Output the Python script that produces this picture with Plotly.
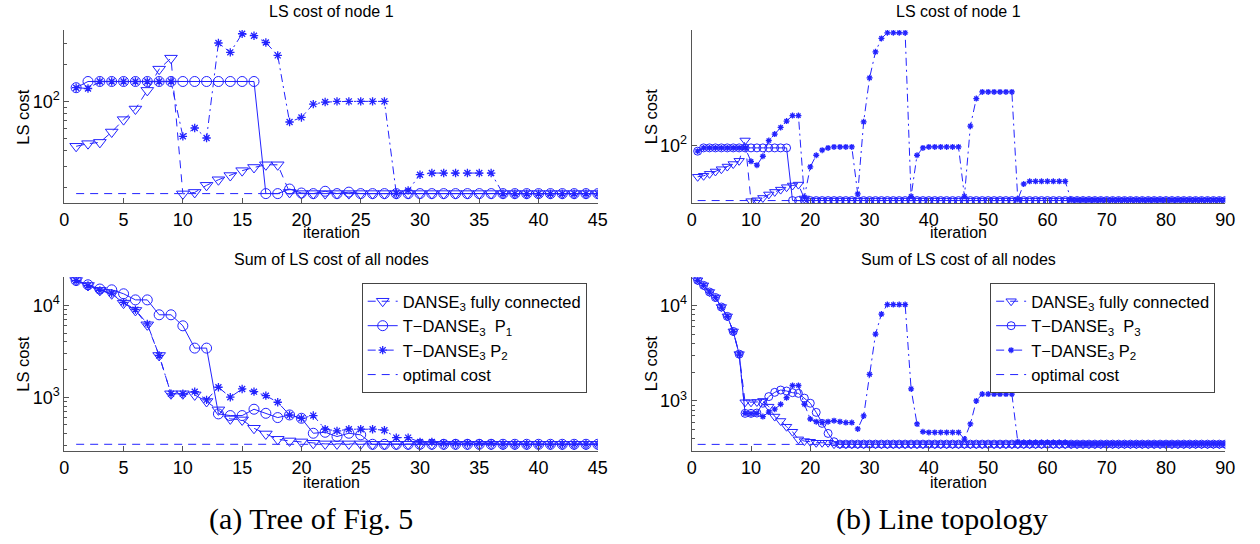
import plotly.graph_objects as go

# ---------------- data ----------------
iters_a = list(range(1, 46))
iters_b = list(range(1, 91))

# (a) Tree of Fig. 5 -- LS cost of node 1
a_top_danse = [43.4, 45.6, 46.7, 56.7, 71.5, 87.2, 123.6, 184, 226,
               17.8, 18.3, 20.9, 23.2, 25.1, 27.5, 29.2, 30.7, 30.7,
               18.3, 17.9, 17.9, 17.9, 17.9, 17.9, 17.9, 17.9, 17.9,
               17.9, 17.9, 17.9, 17.9, 17.9, 17.9, 17.9, 17.9, 17.9,
               17.9, 17.9, 17.9, 17.9, 17.9, 17.9, 17.9, 17.9, 17.9]
a_top_p1 = [130, 146, 146, 146, 146, 146, 146, 146, 146,
            146, 146, 146, 146, 146, 146, 146, 17.9, 17.9,
            19.5, 18.1, 17.9, 18.7, 17.9, 18.4, 17.9, 17.9, 17.9,
            17.9, 17.9, 17.9, 17.9, 17.9, 17.9, 17.9, 17.9, 17.9,
            17.9, 17.9, 17.9, 17.9, 17.9, 17.9, 17.9, 17.9, 17.9]
a_top_p2 = [130, 128, 146, 146, 146, 146, 146, 146, 146,
            52.3, 61.1, 50.7, 300, 252, 357, 344, 303, 238,
            68.4, 74.5, 95.6, 99.4, 100.6, 100.6, 100.6, 100.6, 100.6,
            18.0, 19.0, 25.5, 26.3, 26.3, 26.3, 26.3, 26.3, 26.3,
            17.9, 17.9, 17.9, 17.9, 17.9, 17.9, 17.9, 17.9, 17.9]
a_top_opt = 17.9

# (a) Sum of LS cost of all nodes
a_bot_danse = [18700, 16500, 14600, 13400, 10600, 8820, 6150, 2850, 1090,
               1090, 1060, 898, 728, 581, 566, 459, 398, 348,
               334, 326, 315, 310, 310, 310, 310, 307, 307,
               307, 307, 307, 307, 307, 307, 307, 307, 307,
               307, 307, 307, 307, 307, 307, 307, 307, 307]
a_bot_p1 = [18700, 16800, 15100, 14800, 13400, 11500, 11500, 7910, 7910,
            6000, 3430, 3430, 658, 631, 631, 740, 668, 600,
            641, 590, 405, 415, 373, 405, 389, 307, 307,
            307, 307, 307, 307, 307, 307, 307, 307, 307,
            307, 307, 307, 307, 307, 307, 307, 307, 307]
a_bot_p2 = [18700, 16500, 14600, 13600, 10800, 9000, 6300, 2850, 1090,
            1090, 1150, 935, 1285, 1000, 1230, 1150, 1040, 881,
            641, 590, 631, 448, 430, 448, 448, 448, 437,
            363, 363, 325, 325, 315, 315, 315, 315, 315,
            308, 308, 308, 308, 308, 308, 308, 308, 308]
a_bot_opt = 307

# (b) Line topology -- LS cost of node 1
b_top_danse = [60, 61, 63, 65.5, 68, 71, 74, 78, 109,
               40.2, 40.8, 42.4, 44.9, 46.8, 48.6, 50.6, 52, 52.8,
               42, 40.6, 40.6, 40.6, 40.6, 40.6, 40.6, 40.6, 40.6, 40.6,
               40.6, 40.6, 40.6, 40.6, 40.6, 40.6, 40.6, 40.6, 40.6, 40.6,
               40.6, 40.6, 40.6, 40.6, 40.6, 40.6, 40.6, 40.6, 40.6, 40.6,
               40.6, 40.6, 40.6, 40.6, 40.6, 40.6, 40.6, 40.6, 40.6, 40.6,
               40.6, 40.6, 40.6, 40.6, 40.6, 40.6, 40.6, 40.6, 40.6, 40.6,
               40.6, 40.6, 40.6, 40.6, 40.6, 40.6, 40.6, 40.6, 40.6, 40.6,
               40.6, 40.6, 40.6, 40.6, 40.6, 40.6, 40.6, 40.6, 40.6, 40.6,
               40.6, 40.6, 40.6]
b_top_p3 = [91.4, 96.5, 96.5, 96.5, 96.5, 96.5, 96.5, 96.5, 96.5, 96.5,
            96.5, 96.5, 96.5, 96.5, 96.5, 96.5, 40.6, 40.6, 40.6, 40.6,
            40.6, 40.6, 40.6, 40.6, 40.6, 40.6, 40.6, 40.6, 40.6, 40.6,
            40.6, 40.6, 40.6, 40.6, 40.6, 40.6, 40.6, 40.6, 40.6, 40.6,
            40.6, 40.6, 40.6, 40.6, 40.6, 40.6, 40.6, 40.6, 40.6, 40.6,
            40.6, 40.6, 40.6, 40.6, 40.6, 40.6, 40.6, 40.6, 40.6, 40.6,
            40.6, 40.6, 40.6, 40.6, 40.6, 40.6, 40.6, 40.6, 40.6, 40.6,
            40.6, 40.6, 40.6, 40.6, 40.6, 40.6, 40.6, 40.6, 40.6, 40.6,
            40.6, 40.6, 40.6, 40.6, 40.6, 40.6, 40.6, 40.6, 40.6, 40.6]
b_top_p2 = [91.4, 96.5, 96.5, 96.5, 96.5, 96.5, 96.5, 96.5, 96.5,
            77.4, 72.6, 84.1, 109, 121, 135, 150, 164, 164,
            42.9, 70.6, 85.5, 92.9, 96.5, 98, 98, 98, 98,
            45.3, 148, 305, 468, 583, 640, 640, 640, 640,
            43.5, 85.5, 96.5, 98, 98, 98, 98, 98, 98,
            43.5, 138, 217, 242, 242, 242, 242, 242, 242,
            41.3, 53.3, 55.7, 55.7, 55.7, 55.7, 55.7, 55.7, 55.7,
            41.0, 40.8, 40.8, 40.8, 40.8, 40.8, 40.8, 40.8, 40.8,
            40.8, 40.8, 40.8, 40.8, 40.8, 40.8, 40.8, 40.8, 40.8,
            40.8, 40.8, 40.8, 40.8, 40.8, 40.8, 40.8, 40.8, 40.8]
b_top_opt = 40.6

# (b) Sum of LS cost of all nodes
b_bot_danse = [18300, 16200, 13800, 12100, 9610, 7670, 5340, 3090, 968,
               968, 975, 1000, 871, 686, 617, 537, 476, 396,
               380, 374, 365, 365, 365, 353, 353, 353, 353, 353, 353, 353,
               353, 353, 353, 353, 353, 353, 353, 353, 353, 353,
               353, 353, 353, 353, 353, 353, 353, 353, 353, 353,
               353, 353, 353, 353, 353, 353, 353, 353, 353, 353,
               353, 353, 353, 353, 353, 353, 353, 353, 353, 353,
               353, 353, 353, 353, 353, 353, 353, 353, 353, 353,
               353, 353, 353, 353, 353, 353, 353, 353, 353, 353]
b_bot_p3 = [18300, 16200, 13800, 12100, 9610, 7670, 5340, 3090, 741,
            741, 747, 946, 1110, 1230, 1300, 1270, 1220, 1200,
            1070, 946, 759, 582, 457, 374, 353, 353, 353, 353, 353, 353,
            353, 353, 353, 353, 353, 353, 353, 353, 353, 353,
            353, 353, 353, 353, 353, 353, 353, 353, 353, 353,
            353, 353, 353, 353, 353, 353, 353, 353, 353, 353,
            353, 353, 353, 353, 353, 353, 353, 353, 353, 353,
            353, 353, 353, 353, 353, 353, 353, 353, 353, 353,
            353, 353, 353, 353, 353, 353, 353, 353, 353, 353]
b_bot_p2 = [18300, 16200, 13800, 12100, 9610, 7670, 5340, 3090, 741,
            735, 741, 686, 765, 819, 923, 1080, 1450, 1450,
            923, 647, 607, 593, 607, 621, 607, 593, 593,
            509, 697, 1900, 5000, 8110, 10200, 10200, 10200, 10200,
            1340, 574, 476, 468, 468, 468, 468, 468, 468,
            399, 574, 1000, 1180, 1180, 1180, 1180, 1180, 1180,
            374, 367, 367, 367, 367, 367, 367, 367, 367,
            355, 355, 355, 355, 355, 355, 355, 355, 355,
            355, 355, 355, 355, 355, 355, 355, 355, 355,
            355, 355, 355, 355, 355, 355, 355, 355, 355]
b_bot_opt = 351

names_a = ["DANSE<sub>3</sub> fully connected", "T\u2212DANSE<sub>3</sub>  P<sub>1</sub>",
           "T\u2212DANSE<sub>3</sub> P<sub>2</sub>", "optimal cost"]
names_b = ["DANSE<sub>3</sub> fully connected", "T\u2212DANSE<sub>3</sub>  P<sub>3</sub>",
           "T\u2212DANSE<sub>3</sub> P<sub>2</sub>", "optimal cost"]

# ---------------- style ----------------
BLUE = "rgb(35,35,255)"
FONT = "Liberation Sans, Arial, Helvetica, sans-serif"
SERIF = "Liberation Serif, Times New Roman, serif"
W, H = 1260, 544

fig = go.Figure()


def add_panel(xa, ya, iters, danse, pa, pb, opt, names, show, leg, msize):
    fig.add_trace(go.Scatter(
        x=iters, y=danse, xaxis=xa, yaxis=ya, name=names[0], mode="lines+markers",
        line=dict(color=BLUE, width=1, dash="8px,6px"),
        marker=dict(symbol="triangle-down-open", size=msize + 1, color=BLUE,
                    line=dict(color=BLUE, width=1)),
        showlegend=show, legend=leg))
    fig.add_trace(go.Scatter(
        x=iters, y=pa, xaxis=xa, yaxis=ya, name=names[1], mode="lines+markers",
        line=dict(color=BLUE, width=1),
        marker=dict(symbol="circle-open", size=msize, color=BLUE,
                    line=dict(color=BLUE, width=1)),
        showlegend=show, legend=leg))
    fig.add_trace(go.Scatter(
        x=iters, y=pb, xaxis=xa, yaxis=ya, name=names[2], mode="lines+markers",
        line=dict(color=BLUE, width=1, dash="8px,4px,2px,4px"),
        marker=dict(symbol="asterisk-open", size=msize - 3, color=BLUE,
                    line=dict(color=BLUE, width=1.3)),
        showlegend=show, legend=leg))
    fig.add_trace(go.Scatter(
        x=iters, y=[opt] * len(iters), xaxis=xa, yaxis=ya, name=names[3], mode="lines",
        line=dict(color=BLUE, width=1, dash="8px,6px"),
        showlegend=show, legend=leg))


add_panel("x", "y", iters_a, a_top_danse, a_top_p1, a_top_p2, a_top_opt, names_a, False, "legend", 10)
add_panel("x2", "y2", iters_b, b_top_danse, b_top_p3, b_top_p2, b_top_opt, names_b, False, "legend2", 8)
add_panel("x3", "y3", iters_a, a_bot_danse, a_bot_p1, a_bot_p2, a_bot_opt, names_a, True, "legend", 10)
add_panel("x4", "y4", iters_b, b_bot_danse, b_bot_p3, b_bot_p2, b_bot_opt, names_b, True, "legend2", 8)


def px_x(p):
    return p / W


def px_y(p):
    return 1 - p / H


AX = dict(showline=True, linecolor="#555", linewidth=1, ticks="inside", ticklen=5,
          tickcolor="#555", showgrid=False, zeroline=False, mirror=False,
          tickfont=dict(family=FONT, size=18, color="black"))

xa_dom = [px_x(60), px_x(600)]
xb_dom = [px_x(695), px_x(1235)]
top_dom = [px_y(203.3), px_y(30)]
bot_dom = [px_y(451), px_y(277)]

xa_ticks = dict(tickvals=[0, 5, 10, 15, 20, 25, 30, 35, 40, 45])
xb_ticks = dict(tickvals=[0, 10, 20, 30, 40, 50, 60, 70, 80, 90])

fig.update_layout(
    xaxis=dict(AX, domain=xa_dom, range=[0, 45], anchor="y", **xa_ticks),
    xaxis2=dict(AX, domain=xb_dom, range=[0, 90], anchor="y2", **xb_ticks),
    xaxis3=dict(AX, domain=xa_dom, range=[0, 45], anchor="y3", **xa_ticks),
    xaxis4=dict(AX, domain=xb_dom, range=[0, 90], anchor="y4", **xb_ticks),
    yaxis=dict(AX, domain=top_dom, type="log", range=[1.174, 2.583], anchor="x",
               tickvals=[100], ticktext=["10<sup>2</sup>"],
               minor=dict(ticks="inside", ticklen=3, tickcolor="#555",
                          tickvals=[20, 30, 40, 50, 60, 70, 80, 90, 200, 300])),
    yaxis2=dict(AX, domain=top_dom, type="log", range=[1.589, 2.826], anchor="x2",
                tickvals=[100], ticktext=["10<sup>2</sup>"]),
    yaxis3=dict(AX, domain=bot_dom, type="log", range=[2.414, 4.31], anchor="x3",
                tickvals=[1000, 10000], ticktext=["10<sup>3</sup>", "10<sup>4</sup>"],
                minor=dict(ticks="inside", ticklen=3, tickcolor="#555",
                           tickvals=[300, 400, 500, 600, 700, 800, 900, 2000, 3000, 4000,
                                     5000, 6000, 7000, 8000, 9000, 20000])),
    yaxis4=dict(AX, domain=bot_dom, type="log", range=[2.476, 4.297], anchor="x4",
                tickvals=[1000, 10000], ticktext=["10<sup>3</sup>", "10<sup>4</sup>"],
                minor=dict(ticks="inside", ticklen=3, tickcolor="#555",
                           tickvals=[300, 400, 500, 600, 700, 800, 900, 2000, 3000, 4000,
                                     5000, 6000, 7000, 8000, 9000])),
    legend=dict(x=px_x(361), y=px_y(283), xanchor="left", yanchor="top",
                bordercolor="#444", borderwidth=1, bgcolor="white",
                font=dict(family=FONT, size=16.5, color="black")),
    legend2=dict(x=px_x(997), y=px_y(283), xanchor="left", yanchor="top",
                 bordercolor="#444", borderwidth=1, bgcolor="white",
                 font=dict(family=FONT, size=16.5, color="black")),
    width=W, height=H, margin=dict(l=0, r=0, t=0, b=0),
    paper_bgcolor="white", plot_bgcolor="white",
    font=dict(family=FONT, color="black"),
)

ann = []
for cx in (330, 965):
    ann.append(dict(text="LS cost of node 1", x=px_x(cx), y=px_y(11), showarrow=False,
                    font=dict(size=16), xanchor="center", yanchor="middle"))
    ann.append(dict(text="Sum of LS cost of all nodes", x=px_x(cx), y=px_y(259), showarrow=False,
                    font=dict(size=16), xanchor="center", yanchor="middle"))
    ann.append(dict(text="iteration", x=px_x(cx), y=px_y(233), showarrow=False,
                    font=dict(size=16), xanchor="center", yanchor="middle"))
    ann.append(dict(text="iteration", x=px_x(cx), y=px_y(482), showarrow=False,
                    font=dict(size=16), xanchor="center", yanchor="middle"))
for lx in (18, 654):
    ann.append(dict(text="LS cost", x=px_x(lx), y=px_y(117), textangle=-90, showarrow=False,
                    font=dict(size=16.5), xanchor="center", yanchor="middle"))
    ann.append(dict(text="LS cost", x=px_x(lx), y=px_y(364), textangle=-90, showarrow=False,
                    font=dict(size=16.5), xanchor="center", yanchor="middle"))
ann.append(dict(text="(a) Tree of Fig. 5", x=px_x(310), y=px_y(519), showarrow=False,
                font=dict(family=SERIF, size=30), xanchor="center", yanchor="middle"))
ann.append(dict(text="(b) Line topology", x=px_x(948), y=px_y(519), showarrow=False,
                font=dict(family=SERIF, size=30), xanchor="center", yanchor="middle"))
for a in ann:
    a.update(xref="paper", yref="paper")
fig.update_layout(annotations=ann)

# remove the browser's default 8px page margin so the figure fills the window
fig.write_html("out.html", config={"displayModeBar": False},
               post_script="document.body.style.margin='0px';")
